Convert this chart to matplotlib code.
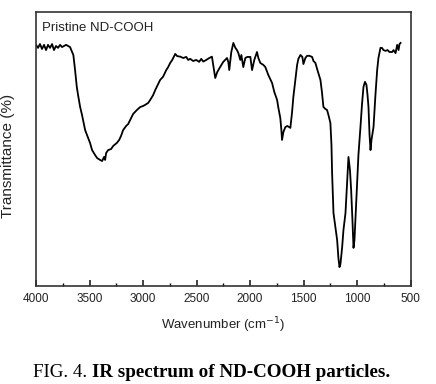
import matplotlib
matplotlib.use('Agg')
import matplotlib.pyplot as plt
from matplotlib.ticker import MultipleLocator

# IR spectrum values (wavenumber cm-1, transmittance a.u.)
wavenumber = [4000, 3981, 3963, 3944, 3925, 3906, 3888, 3869, 3850, 3832, 3813, 3794,
              3775, 3757, 3738, 3719, 3700, 3682, 3663, 3651, 3635, 3619, 3607, 3588,
              3570, 3541, 3523, 3495, 3476, 3448, 3429, 3401, 3382, 3364, 3354, 3345,
              3326, 3298, 3279, 3245, 3223, 3205, 3186, 3158, 3139, 3120, 3092, 3058,
              3027, 2999, 2980, 2952, 2933, 2905, 2886, 2858, 2840, 2812, 2783, 2765,
              2746, 2727, 2699, 2681, 2652, 2624, 2596, 2578, 2559, 2531, 2503, 2475,
              2456, 2437, 2409, 2381, 2356, 2344, 2325, 2306, 2278, 2250, 2215, 2203,
              2194, 2175, 2156, 2137, 2122, 2109, 2091, 2081, 2063, 2044, 2026, 1997,
              1981, 1960, 1935, 1922, 1904, 1876, 1857, 1829, 1794, 1773, 1747, 1735,
              1717, 1707, 1701, 1688, 1670, 1651, 1623, 1607, 1595, 1576, 1560, 1548,
              1529, 1511, 1501, 1483, 1467, 1445, 1420, 1407, 1389, 1370, 1342, 1328,
              1314, 1295, 1280, 1267, 1249, 1239, 1233, 1220, 1201, 1186, 1174, 1164,
              1155, 1139, 1127, 1108, 1094, 1080, 1066, 1055, 1043, 1033, 1024, 999,
              987, 968, 954, 940, 926, 912, 902, 893, 883, 874, 865, 846, 828, 812,
              800, 781, 767, 753, 734, 715, 697, 671, 659, 640, 625, 612, 603, 593]
transmittance = [88.0, 86.9, 88.3, 86.5, 88.0, 86.1, 88.0, 86.9, 88.3, 86.1, 87.6, 86.9,
                 88.0, 87.2, 87.6, 88.0, 87.6, 87.2, 85.4, 84.3, 78.8, 72.7, 69.7, 65.4,
                 62.4, 56.9, 55.1, 52.2, 49.6, 47.8, 46.7, 46.0, 45.6, 47.1, 46.0, 48.5,
                 49.6, 50.0, 51.1, 52.2, 53.3, 54.8, 56.9, 58.4, 59.1, 60.6, 62.8, 64.2,
                 65.3, 65.7, 66.1, 66.8, 67.9, 69.7, 71.5, 73.7, 75.2, 76.4, 78.8, 79.9,
                 81.4, 82.5, 84.7, 83.9, 83.7, 83.2, 83.6, 82.5, 82.9, 82.1, 82.5, 81.8,
                 82.9, 81.9, 82.5, 83.2, 83.7, 80.7, 75.9, 78.1, 80.0, 81.8, 83.2, 81.8,
                 78.8, 85.4, 88.7, 86.9, 86.1, 85.0, 82.5, 84.3, 79.9, 83.2, 83.6, 83.6,
                 78.8, 82.5, 85.4, 83.2, 81.4, 80.7, 79.9, 77.0, 74.1, 70.8, 67.9, 65.0,
                 61.3, 56.9, 53.3, 56.2, 58.0, 58.4, 57.7, 63.5, 69.0, 75.2, 80.7, 82.9,
                 84.3, 83.6, 81.0, 83.2, 84.0, 84.0, 83.6, 82.1, 81.4, 78.8, 75.2, 70.8,
                 65.3, 64.6, 64.2, 62.4, 59.5, 51.5, 41.2, 26.6, 21.2, 16.8, 10.2, 6.9,
                 8.0, 14.2, 20.4, 26.6, 36.9, 47.1, 42.3, 35.0, 24.1, 13.9, 16.8, 37.6,
                 47.8, 58.0, 66.1, 72.6, 74.5, 73.4, 69.7, 65.3, 55.1, 49.6, 53.3, 58.0,
                 69.7, 78.8, 83.2, 86.9, 86.9, 86.1, 85.8, 86.1, 85.4, 85.4, 86.1, 85.0,
                 88.0, 86.1, 88.3, 88.7]

plt.rcParams['font.family'] = ['Liberation Sans', 'DejaVu Sans']

fig = plt.figure(figsize=(4.36, 3.84), dpi=100)
ax = fig.add_axes([0.0826, 0.2552, 0.859, 0.7136])

ax.plot(wavenumber, transmittance, color='black', linewidth=1.3)
ax.set_xlim(4000, 500)
ax.set_ylim(0, 100)

ax.xaxis.set_major_locator(MultipleLocator(500))
ax.xaxis.set_minor_locator(MultipleLocator(250))
ax.tick_params(axis='x', which='major', direction='in', length=4, width=1.2,
               labelsize=8.5, pad=5, colors='#222222')
ax.tick_params(axis='x', which='minor', direction='in', length=2.5, width=1.0)
ax.set_yticks([])
for sp in ax.spines.values():
    sp.set_linewidth(1.2)
    sp.set_color('#333333')

ax.set_xlabel('Wavenumber (cm$^{-1}$)', fontsize=9.5, color='#222222')
ax.xaxis.set_label_coords(0.5, -0.142)
ax.xaxis.label.set_va('center')
ax.set_ylabel('Transmittance (%)', fontsize=11, color='#222222')
ax.yaxis.set_label_coords(-0.075, 0.474)
ax.yaxis.label.set_va('center')
ax.text(0.015, 0.965, 'Pristine ND-COOH', transform=ax.transAxes,
        fontsize=9.5, va='top', ha='left', color='#222222')

# caption: regular "FIG. 4." followed by bold text
cap1 = fig.text(0.076, 0.018, 'FIG. 4. ', fontsize=13.7, family='Liberation Serif',
                ha='left', va='baseline')
fig.canvas.draw()
bb = cap1.get_window_extent(renderer=fig.canvas.get_renderer())
x_next = bb.x1 / fig.bbox.width
fig.text(x_next, 0.018, 'IR spectrum of ND-COOH particles.', fontsize=13.7,
         family='Liberation Serif', weight='bold', ha='left', va='baseline')

fig.savefig('out.png', dpi=100)
